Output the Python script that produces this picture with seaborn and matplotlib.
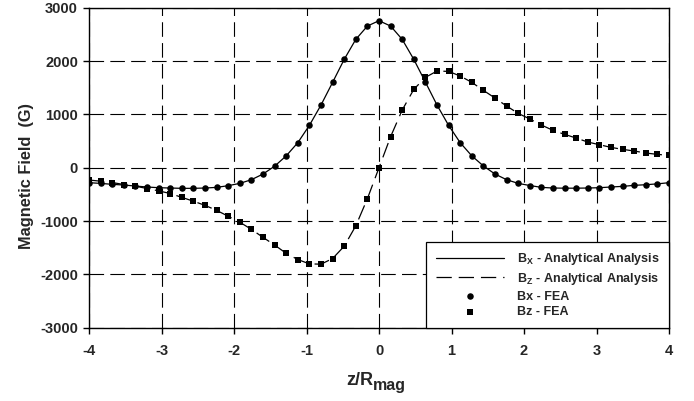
import numpy as np
import pandas as pd
import matplotlib
matplotlib.use("Agg")
import matplotlib.pyplot as plt
import seaborn as sns

# ---- data ----
z_pos = [-4.00, -3.84, -3.68, -3.52, -3.36, -3.20, -3.04, -2.88, -2.72, -2.56,
         -2.40, -2.24, -2.08, -1.92, -1.76, -1.60, -1.44, -1.28, -1.12, -0.96,
         -0.80, -0.64, -0.48, -0.32, -0.16, 0.00, 0.16, 0.32, 0.48, 0.64,
         0.80, 0.96, 1.12, 1.28, 1.44, 1.60, 1.76, 1.92, 2.08, 2.24,
         2.40, 2.56, 2.72, 2.88, 3.04, 3.20, 3.36, 3.52, 3.68, 3.84, 4.00]

bx_values = [-281, -294, -312, -325, -344, -362, -375, -381, -387, -387,
             -381, -369, -337, -294, -225, -119, 28, 222, 469, 794,
             1175, 1600, 2031, 2406, 2656, 2756, 2656, 2406, 2031, 1605,
             1175, 794, 469, 222, 33, -119, -225, -294, -334, -369,
             -381, -384, -384, -381, -375, -362, -350, -331, -319, -303, -281]

bz_values = [-231, -253, -278, -315, -347, -390, -434, -484, -556, -628,
             -706, -800, -910, -1022, -1156, -1306, -1450, -1606, -1722, -1803,
             -1809, -1703, -1472, -1090, -581, 0, 581, 1081, 1469, 1694,
             1812, 1806, 1719, 1600, 1450, 1306, 1156, 1019, 913, 800,
             700, 625, 556, 481, 431, 381, 344, 313, 275, 250, 231]

x_ticks = [-4, -3, -2, -1, 0, 1, 2, 3, 4]
y_ticks = [-3000, -2000, -1000, 0, 1000, 2000, 3000]

legend_labels = [r"$\mathbf{B_{X}}$$\mathbf{\ \text{-}\ Analytical\ Analysis}$",
                 r"$\mathbf{B_{Z}}$$\mathbf{\ \text{-}\ Analytical\ Analysis}$",
                 "Bx - FEA", "Bz - FEA"]
x_label_main = "z/R"
x_label_sub = "mag"
y_label = "Magnetic Field  (G)"

df = pd.DataFrame({"z": z_pos, "Bx": bx_values, "Bz": bz_values})

# ---- style ----
sns.set_style("white")
plt.rcParams["font.family"] = ["Liberation Sans", "DejaVu Sans"]
plt.rcParams["font.weight"] = "bold"
plt.rcParams["mathtext.fontset"] = "custom"
plt.rcParams["mathtext.rm"] = "Liberation Sans:bold"
plt.rcParams["mathtext.bf"] = "Liberation Sans:bold"
plt.rcParams["mathtext.it"] = "Liberation Sans:bold"
plt.rcParams["mathtext.default"] = "bf"
plt.rcParams["lines.scale_dashes"] = False

fig = plt.figure(figsize=(6.94, 4.01), dpi=100)
ax = fig.add_axes([89 / 694, 1 - 327.7 / 401, 580 / 694, 320 / 401])

sns.lineplot(data=df, x="z", y="Bx", ax=ax, color="black", lw=0.9,
             label=legend_labels[0], sort=False)
sns.lineplot(data=df, x="z", y="Bz", ax=ax, color="black", lw=0.9,
             label=legend_labels[1], sort=False)
ax.lines[1].set_dashes((11, 5))

sns.scatterplot(data=df, x="z", y="Bx", ax=ax, color="black", marker="o",
                s=22, edgecolor="black", linewidth=0, label=legend_labels[2],
                zorder=3)
sns.scatterplot(data=df, x="z", y="Bz", ax=ax, color="black", marker="s",
                s=16, edgecolor="black", linewidth=0, label=legend_labels[3],
                zorder=3)

ax.set_xlim(-4, 4)
ax.set_ylim(-3000, 3000)
ax.set_xticks(x_ticks)
ax.set_yticks(y_ticks)
ax.set_xticklabels([str(t) for t in x_ticks])
ax.set_yticklabels([str(t) for t in y_ticks])

ax.grid(True, color="black", linestyle=(0, (10.5, 4.5)), lw=0.8)
ax.set_axisbelow(True)

for s in ax.spines.values():
    s.set_visible(True)
    s.set_color("black")
    s.set_linewidth(1.0)

ax.tick_params(axis="both", which="major", direction="out", length=4,
               width=1.0, color="black", labelsize=10.5, bottom=True, left=True)
ax.tick_params(axis="x", pad=8)
ax.tick_params(axis="y", pad=4)
for lbl in ax.get_xticklabels() + ax.get_yticklabels():
    lbl.set_fontweight("bold")

ax.set_xlabel("")
ax.set_ylabel(y_label, fontsize=11.8, fontweight="bold")
ax.yaxis.set_label_coords(-0.095, 0.474)

# x label: main text + larger-than-default subscript
t_main = fig.text(380 / 694 - 0.010, 1 - 385 / 401, x_label_main, fontsize=13,
                  fontweight="bold", ha="right", va="baseline")
fig.canvas.draw()
bb = t_main.get_window_extent()
fig.text(bb.x1 / fig.bbox.width, 1 - 390 / 401, x_label_sub, fontsize=11.5,
         fontweight="bold", ha="left", va="baseline")

handles, labels = ax.get_legend_handles_labels()
leg = ax.legend(handles, labels, loc="lower right", bbox_to_anchor=(1, 0),
                borderaxespad=0, frameon=True, fancybox=False,
                edgecolor="black", framealpha=1,
                prop={"size": 9, "weight": "bold"},
                handlelength=5.5, handletextpad=1.0, borderpad=0.75,
                labelspacing=0.3)
leg.get_frame().set_linewidth(0.9)

fig.savefig("out.png", dpi=100)
